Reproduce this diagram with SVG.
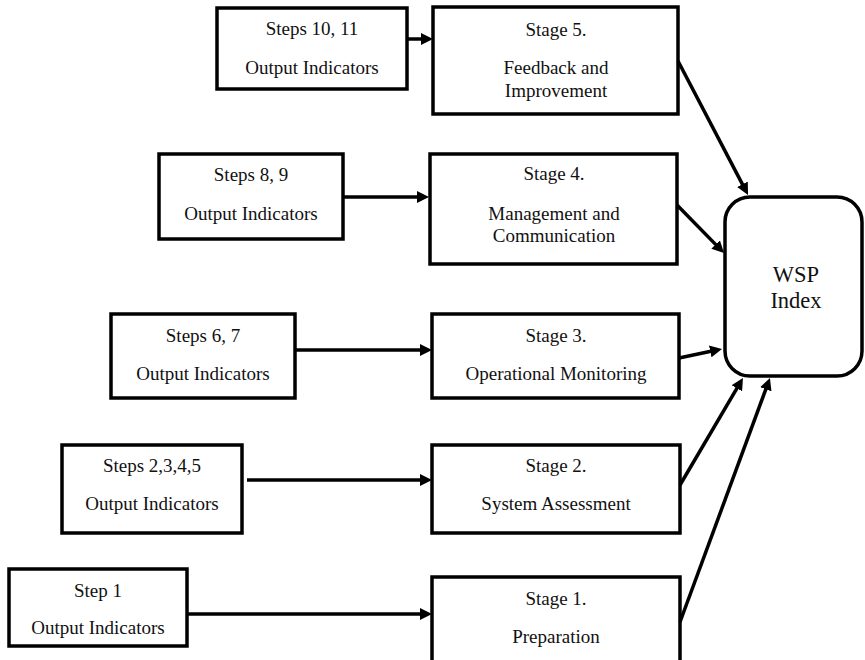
<svg xmlns="http://www.w3.org/2000/svg" width="865" height="660" viewBox="0 0 865 660">
<style>
.box{fill:#fff;stroke:#000;stroke-width:3.5}
.t{font-family:"Liberation Serif","Times New Roman","DejaVu Serif",serif;font-size:19px;fill:#111;text-anchor:middle}
.big{font-size:22.5px}
.c{stroke:#000;stroke-width:3.5;fill:none;marker-end:url(#ah)}
</style>
<defs>
<marker id="ah" viewBox="0 0 12 12" markerWidth="12" markerHeight="12" markerUnits="userSpaceOnUse" refX="2" refY="6" orient="auto">
<path d="M0,0 L12,6 L0,12 z" fill="#000"/>
</marker>
</defs>
<rect width="865" height="660" fill="#fff"/>
<g id="steps10-11"><rect class="box" x="217" y="8" width="190" height="81"/><text class="t" x="312" y="35">Steps 10, 11</text><text class="t" x="312" y="74">Output Indicators</text></g>
<g id="stage5"><rect class="box" x="433" y="7" width="245" height="107"/><text class="t" x="556" y="36">Stage 5.</text><text class="t" x="556" y="74">Feedback and</text><text class="t" x="556" y="97">Improvement</text></g>
<g id="steps8-9"><rect class="box" x="159" y="154" width="184" height="85"/><text class="t" x="251" y="181">Steps 8, 9</text><text class="t" x="251" y="220">Output Indicators</text></g>
<g id="stage4"><rect class="box" x="430" y="154" width="247" height="110"/><text class="t" x="554" y="180">Stage 4.</text><text class="t" x="554" y="220">Management and</text><text class="t" x="554" y="242">Communication</text></g>
<g id="steps6-7"><rect class="box" x="111" y="314" width="184" height="84"/><text class="t" x="203" y="342">Steps 6, 7</text><text class="t" x="203" y="380">Output Indicators</text></g>
<g id="stage3"><rect class="box" x="432" y="314" width="247" height="84"/><text class="t" x="556" y="342">Stage 3.</text><text class="t" x="556" y="380">Operational Monitoring</text></g>
<g id="steps2-5"><rect class="box" x="62" y="445" width="180" height="88"/><text class="t" x="152" y="472">Steps 2,3,4,5</text><text class="t" x="152" y="510">Output Indicators</text></g>
<g id="stage2"><rect class="box" x="432" y="445" width="248" height="88"/><text class="t" x="556" y="472">Stage 2.</text><text class="t" x="556" y="510">System Assessment</text></g>
<g id="step1"><rect class="box" x="9" y="569" width="178" height="77"/><text class="t" x="98" y="597">Step 1</text><text class="t" x="98" y="634">Output Indicators</text></g>
<g id="stage1"><rect class="box" x="432" y="577" width="248" height="90"/><text class="t" x="556" y="605">Stage 1.</text><text class="t" x="556" y="643">Preparation</text></g>
<g id="wsp"><rect class="box" x="725" y="197" width="137" height="179" rx="25"/><text class="t big" x="796" y="282">WSP</text><text class="t big" x="796" y="308">Index</text></g>
<g id="connectors">
<line class="c" x1="407" y1="39" x2="423" y2="39"/>
<line class="c" x1="343" y1="197" x2="419" y2="197"/>
<line class="c" x1="295" y1="350" x2="422" y2="350"/>
<line class="c" x1="247" y1="480" x2="422" y2="480"/>
<line class="c" x1="187" y1="614" x2="422" y2="614"/>
<line class="c" x1="678" y1="61" x2="743.4" y2="186.1"/>
<line class="c" x1="677" y1="205" x2="717" y2="245.9"/>
<line class="c" x1="679" y1="358" x2="712.2" y2="351"/>
<line class="c" x1="680" y1="485" x2="737.9" y2="386.6"/>
<line class="c" x1="680" y1="622" x2="766.5" y2="387.4"/>
</g>
</svg>
